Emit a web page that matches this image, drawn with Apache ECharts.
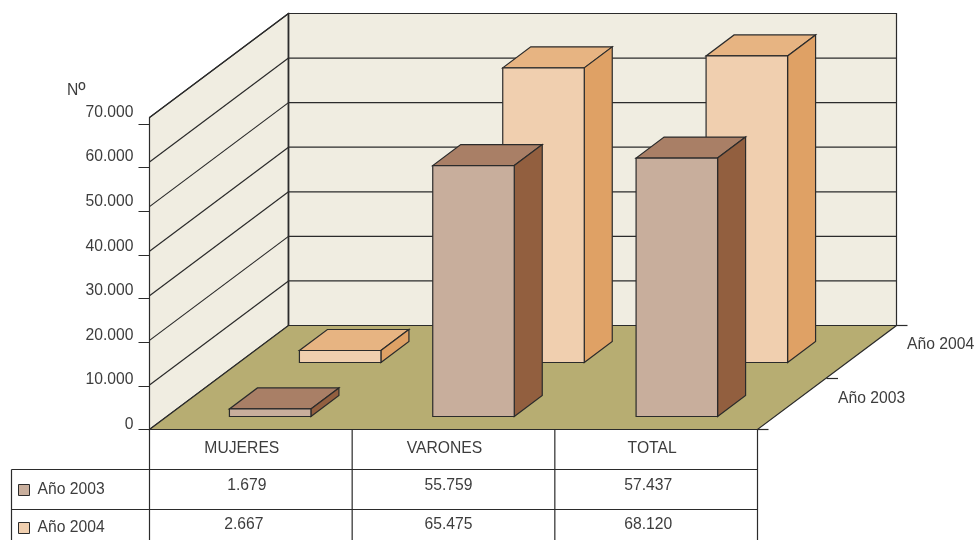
<!DOCTYPE html>
<html>
<head>
<meta charset="utf-8">
<style>html,body{margin:0;padding:0;background:#fff}#c{width:977px;height:540px}</style>
<script src="https://cdn.jsdelivr.net/npm/echarts@6/dist/echarts.min.js"></script>
</head>
<body>
<div id="c"></div>
<script>
const categories = ['MUJERES', 'VARONES', 'TOTAL'];
const serieNames = ['Año 2003', 'Año 2004'];
const values2003 = [1679, 55759, 57437];
const values2004 = [2667, 65475, 68120];
const labels2003 = ['1.679', '55.759', '57.437'];
const labels2004 = ['2.667', '65.475', '68.120'];
const yTicks = [0, 10000, 20000, 30000, 40000, 50000, 60000, 70000];
const yTickLabels = ['0', '10.000', '20.000', '30.000', '40.000', '50.000', '60.000', '70.000'];

const FONT = '"Liberation Sans", Arial, sans-serif';
const FS = 15.7;
const TXT = '#3d3d3d';
const LINE = '#2b2b2b';
const LW = 1.2;
const DEPTH = { x: 139, y: -104 };
const NUDGE_2003 = [-4, -5, -8];
const NUDGE_2004 = [-7, -5, -8];

function poly(points, fill) {
  return { type: 'polygon', shape: { points }, style: { fill, stroke: LINE, lineWidth: LW }, silent: true };
}
function seg(x1, y1, x2, y2, w) {
  return { type: 'line', shape: { x1, y1, x2, y2 }, style: { stroke: LINE, lineWidth: w || LW }, silent: true };
}
function txt(x, y, text) {
  return { type: 'text', x, y, style: { text, fill: TXT, font: FS + 'px ' + FONT, align: 'center', verticalAlign: 'middle' }, silent: true };
}

function renderScene(params, api) {
  const cs = params.coordSys;
  const L = cs.x, R = cs.x + cs.width, B = cs.y + cs.height, T = cs.y;
  const dx = DEPTH.x, dy = DEPTH.y;
  const kids = [
    poly([[L, B], [L, T], [L + dx, T + dy], [L + dx, B + dy]], '#f0ede1'),
    poly([[L + dx, T + dy], [R + dx, T + dy], [R + dx, B + dy], [L + dx, B + dy]], '#f0ede1'),
    poly([[L, B], [R, B], [R + dx, B + dy], [L + dx, B + dy]], '#b7ad72')
  ];
  yTicks.forEach(function (t, i) {
    if (i === 0) return;
    const y = api.coord([0, t])[1];
    kids.push(seg(L, y, L + dx, y + dy));
    kids.push(seg(L + dx, y + dy, R + dx, y + dy));
  });
  kids.push(seg(L + dx, T + dy, L + dx, B + dy, 1.6));
  kids.push(seg(R, B, R + 11, B));
  kids.push(seg(R + dx, B + dy, R + dx + 11, B + dy));
  kids.push(seg(826.5, 378.5, 838, 378.5));
  return { type: 'group', children: kids };
}

function barRenderer(conf) {
  return function (params, api) {
    const p = api.coord([api.value(0), api.value(1)]);
    const zero = api.coord([api.value(0), 0]);
    const x0 = p[0] + conf.shiftX - 40.75, x1 = x0 + 81.5;
    const base = zero[1] + conf.shiftY, top = p[1] + conf.shiftY;
    const dx = 28, dy = -21;
    return {
      type: 'group',
      children: [
        poly([[x0, top], [x1, top], [x1 + dx, top + dy], [x0 + dx, top + dy]], conf.top),
        poly([[x1, top], [x1 + dx, top + dy], [x1 + dx, base + dy], [x1, base]], conf.side),
        poly([[x0, top], [x1, top], [x1, base], [x0, base]], conf.front)
      ]
    };
  };
}

function renderTable(params, api) {
  const cs = params.coordSys;
  const L = cs.x, R = cs.x + cs.width, B = cs.y + cs.height;
  const r1 = B + 40, r2 = B + 80, r3 = 540;
  const kids = [
    seg(L, B, L, r3), seg(11.5, r1, 11.5, r3), seg(R, B, R, r3),
    seg(11.5, r1, R, r1), seg(11.5, r2, R, r2)
  ];
  categories.forEach(function (c, i) {
    const cx = api.coord([i, 0])[0];
    if (i < categories.length - 1) kids.push(seg(cx + cs.width / 6, B, cx + cs.width / 6, r3));
    kids.push(txt(cx + NUDGE_2003[i], 485.5, labels2003[i]));
    kids.push(txt(cx + NUDGE_2004[i], 524.5, labels2004[i]));
  });
  return { type: 'group', children: kids };
}

const makeX = function (grid, show) {
  return {
    type: 'category', gridIndex: grid, boundaryGap: true,
    data: show
      ? categories.map(function (c, i) { return { value: c, textStyle: { padding: [0, i === 2 ? 8 : 18, 0, 0] } }; })
      : categories,
    axisLine: { show: false }, axisTick: { show: false },
    axisLabel: show ? { show: true, margin: 11, color: TXT, fontFamily: FONT, fontSize: FS } : { show: false }
  };
};

const legendText = { color: TXT, fontFamily: FONT, fontSize: FS, padding: [0, 0, 5, 3] };
const option = {
  animation: false,
  backgroundColor: '#fff',
  title: {
    text: '{a|N}{b|º}', left: 67, top: 81, padding: 0,
    textStyle: {
      color: TXT, fontFamily: FONT, fontSize: FS, fontWeight: 'normal',
      rich: { a: { fontSize: FS, color: TXT, fontFamily: FONT }, b: { fontSize: 20, color: TXT, fontFamily: FONT } }
    }
  },
  legend: [
    {
      data: [{ name: serieNames[0], itemStyle: { color: '#c8ae9c', borderColor: LINE, borderWidth: 1 } }],
      left: 18, top: 482, padding: 0, itemWidth: 11, itemHeight: 11, icon: 'rect', selectedMode: false, textStyle: legendText
    },
    {
      data: [{ name: serieNames[1], itemStyle: { color: '#f0cfaf', borderColor: LINE, borderWidth: 1 } }],
      left: 18, top: 520, padding: 0, itemWidth: 11, itemHeight: 11, icon: 'rect', selectedMode: false, textStyle: legendText
    }
  ],
  grid: [
    { left: 149.5, width: 608, top: 117.5, height: 312 },
    { left: 149.5, width: 608, top: 124, height: 305.5 },
    { left: 148.5, width: 610, top: 114.5, height: 315 }
  ],
  xAxis: [makeX(0, true), makeX(1, false), makeX(2, false)],
  yAxis: [
    {
      type: 'value', gridIndex: 0, min: 0, max: 70000, interval: 10000,
      axisLine: { show: false }, axisTick: { show: false }, splitLine: { show: false },
      axisLabel: {
        margin: 16, color: TXT, fontFamily: FONT, fontSize: FS, verticalAlign: 'bottom', lineHeight: 10,
        formatter: function (v) { return yTickLabels[yTicks.indexOf(v)]; }
      }
    },
    {
      type: 'value', gridIndex: 1, min: 0, max: 70000, interval: 10000,
      axisLine: { show: false }, splitLine: { show: false }, axisLabel: { show: false },
      axisTick: { show: true, length: 11, lineStyle: { color: LINE, width: 1 } }
    },
    {
      type: 'value', gridIndex: 2, min: 0, max: 70000, interval: 10000,
      axisLine: { show: false }, axisTick: { show: false }, splitLine: { show: false }, axisLabel: { show: false }
    }
  ],
  graphic: [
    { type: 'text', left: 907, top: 337, silent: true, style: { text: 'Año 2004', fill: TXT, font: FS + 'px ' + FONT } },
    { type: 'text', left: 838, top: 391, silent: true, style: { text: 'Año 2003', fill: TXT, font: FS + 'px ' + FONT } }
  ],
  series: [
    { type: 'custom', name: 'escena', xAxisIndex: 0, yAxisIndex: 0, z: 1, silent: true, data: [[0, 0]], renderItem: renderScene, clip: false },
    { type: 'custom', name: 'tabla', xAxisIndex: 0, yAxisIndex: 0, z: 1, silent: true, data: [[0, 0]], renderItem: renderTable, clip: false },
    {
      type: 'custom', name: serieNames[1], xAxisIndex: 2, yAxisIndex: 2, z: 2, silent: true, clip: false,
      itemStyle: { color: '#f0cfaf' },
      data: values2004.map(function (v, i) { return [i, v]; }),
      renderItem: barRenderer({ shiftX: 90, shiftY: -67, front: '#f0cfaf', top: '#e7b482', side: '#dfa165' })
    },
    {
      type: 'custom', name: serieNames[0], xAxisIndex: 2, yAxisIndex: 2, z: 3, silent: true, clip: false,
      itemStyle: { color: '#c8ae9c' },
      data: values2003.map(function (v, i) { return [i, v]; }),
      renderItem: barRenderer({ shiftX: 20, shiftY: -13, front: '#c8ae9c', top: '#a97f66', side: '#925f3f' })
    }
  ]
};
echarts.init(document.getElementById('c'), null, { renderer: 'canvas' }).setOption(option);
</script>
</body>
</html>
